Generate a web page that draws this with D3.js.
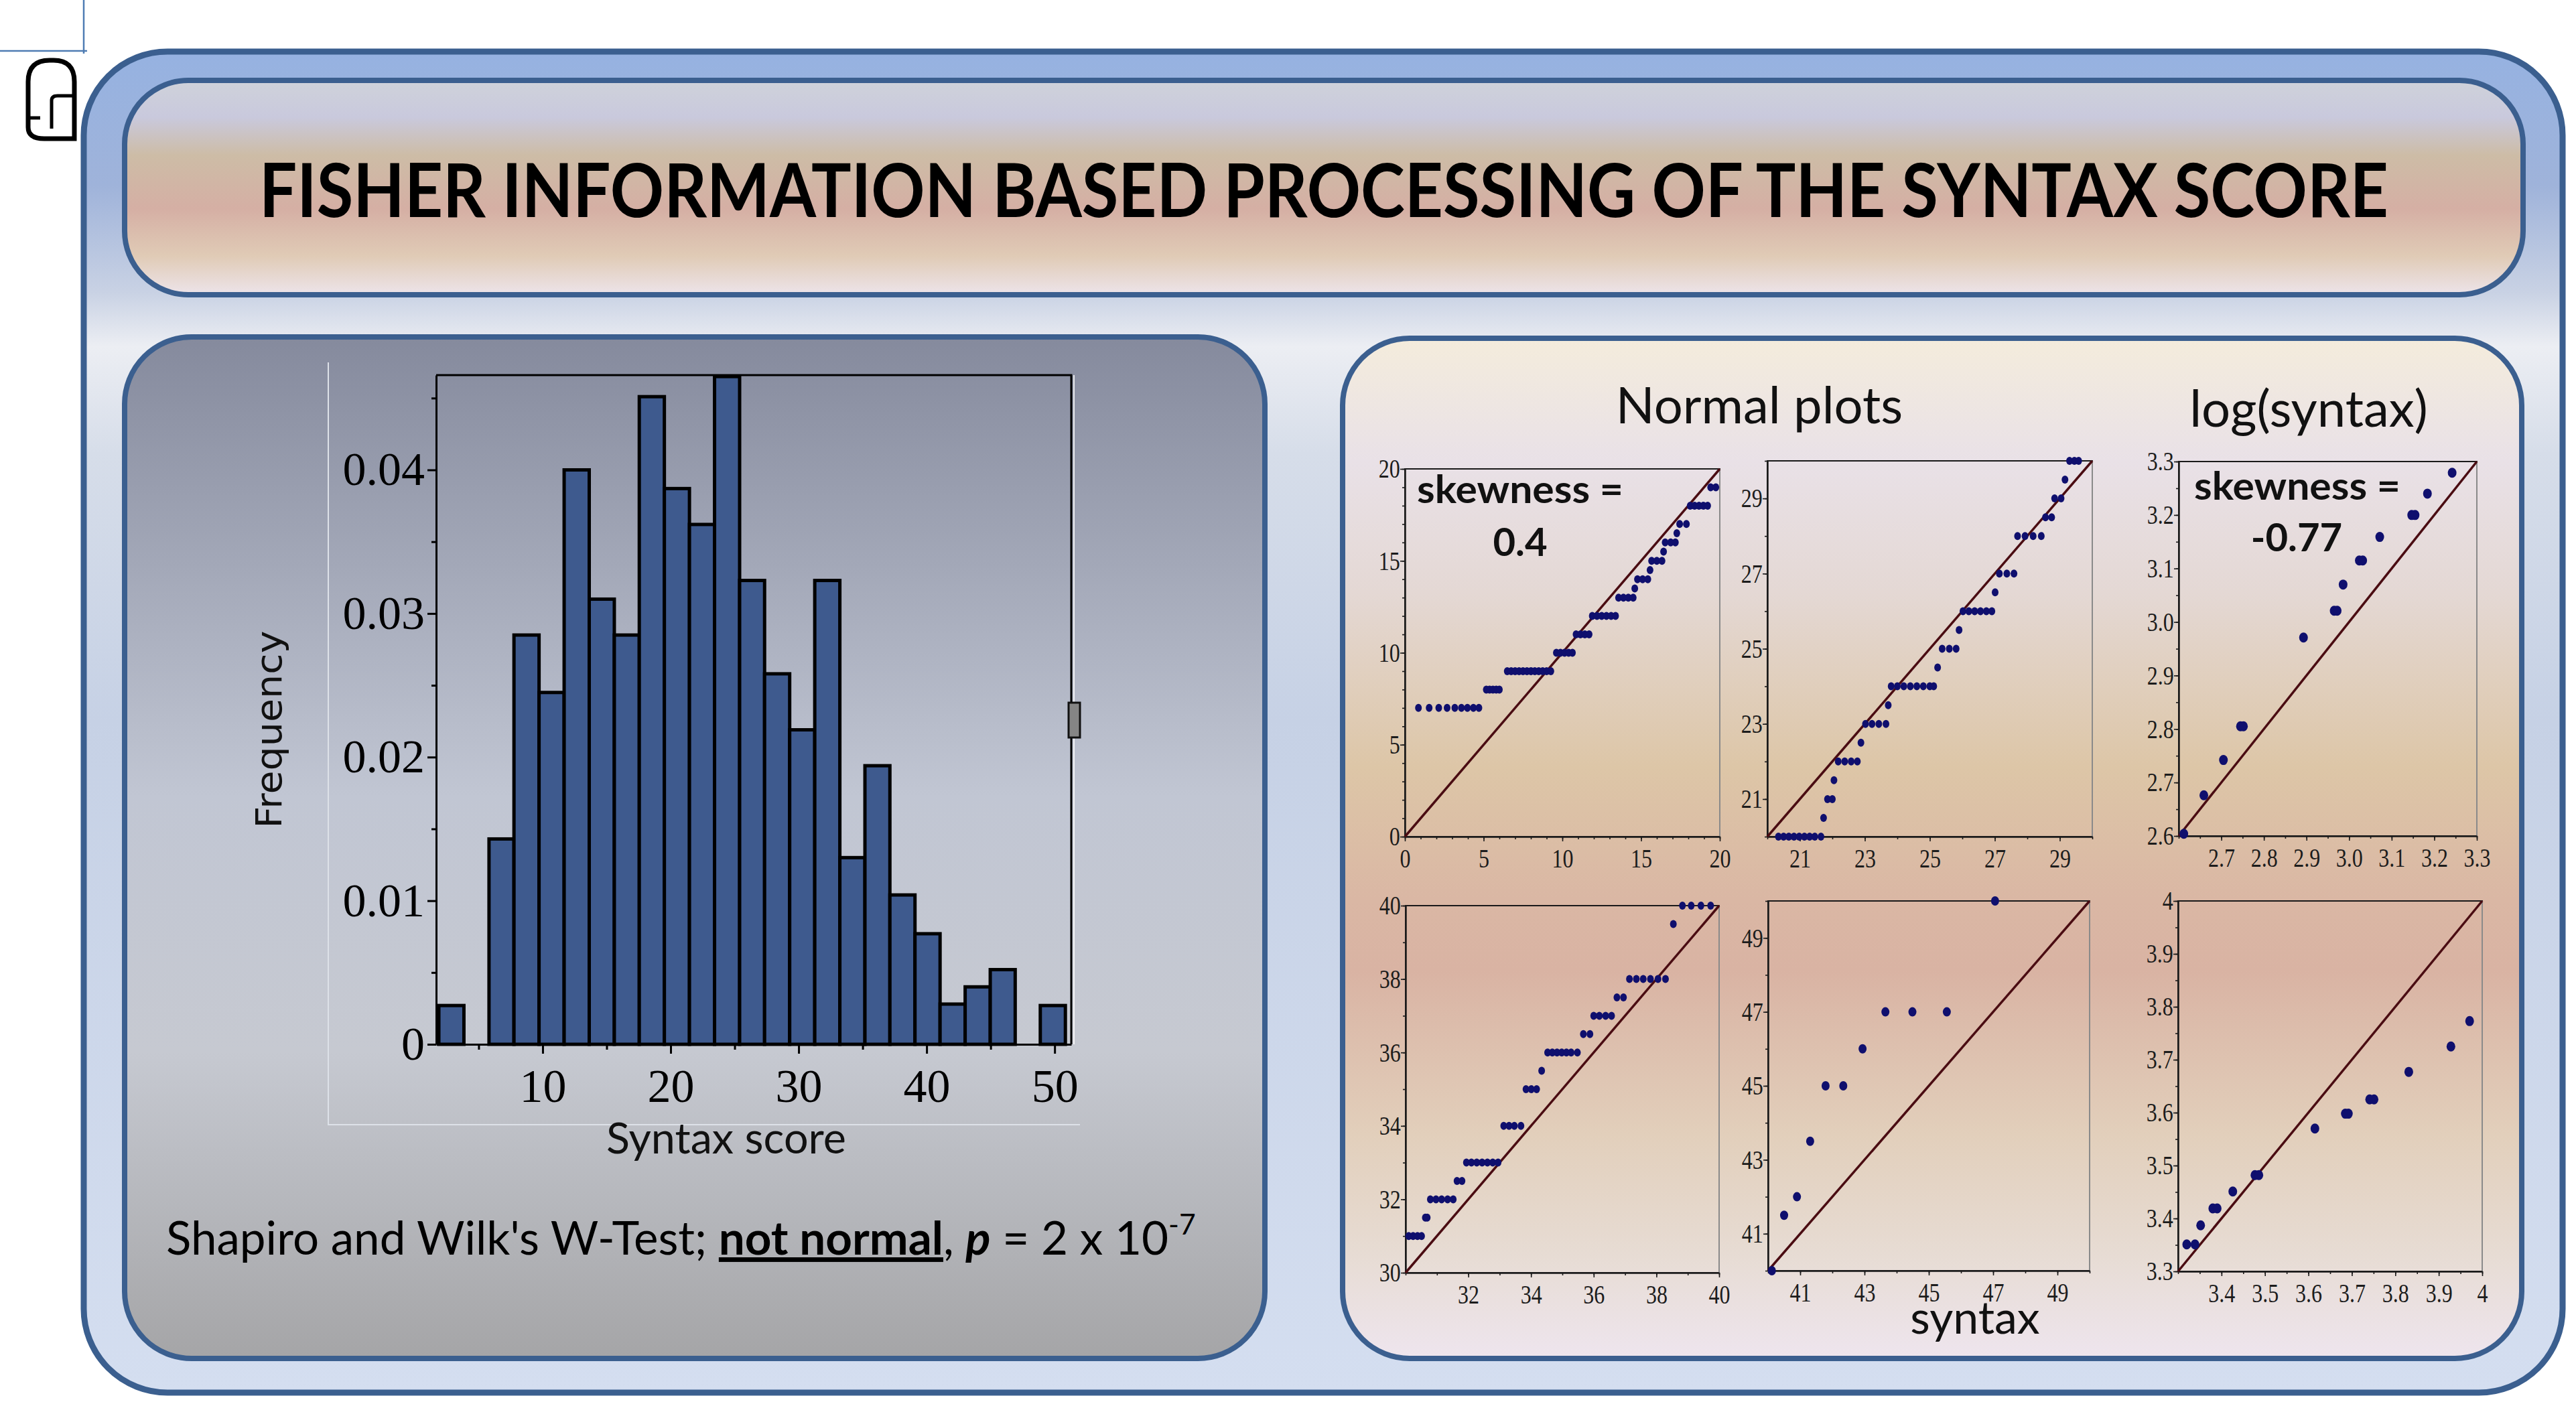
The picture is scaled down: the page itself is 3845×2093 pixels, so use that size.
<!DOCTYPE html>
<html>
<head>
<meta charset="utf-8">
<script src="https://cdn.jsdelivr.net/npm/d3@7/dist/d3.min.js"></script>
<style>
  body { margin: 0; background: #ffffff; }
  svg { display: block; }
</style>
</head>
<body>
<div id="chart-area"></div>
<script>
// ---- data ----
const titleText = "FISHER INFORMATION BASED PROCESSING OF THE SYNTAX SCORE";

// histogram of syntax score (density per bin)
const histEdges = [1.89, 3.85, 5.81, 7.76, 9.72, 11.68, 13.64, 15.60, 17.55, 19.51, 21.47, 23.43, 25.39,
                   27.34, 29.30, 31.26, 33.22, 35.18, 37.13, 39.09, 41.05, 43.01, 44.97, 46.92, 48.88, 50.84];
const histDensity = [0.0027, 0, 0.0143, 0.0285, 0.0245, 0.0400, 0.0310, 0.0285, 0.0451, 0.0387, 0.0362, 0.0465,
                     0.0323, 0.0258, 0.0219, 0.0323, 0.0130, 0.0194, 0.0104, 0.0077, 0.0028, 0.0040, 0.0052, 0, 0.0027];
const histXTicks = [10, 20, 30, 40, 50];
const histXMinor = [5, 15, 25, 35, 45];
const histYTicks = [0, 0.01, 0.02, 0.03, 0.04];
const histYMinor = [0.005, 0.015, 0.025, 0.035, 0.045];

// normal plots, [theoretical, sample]
const qq1Points = [
  [0.86,7],[1.54,7],[2.15,7],[2.68,7],[3.17,7],[3.59,7],[3.97,7],[4.35,7],[4.7,7],
  [5.17,8],[5.38,8],[5.59,8],[5.8,8],[6.0,8],
  [6.5,9],[6.75,9],[7.0,9],[7.25,9],[7.5,9],[7.75,9],[8.0,9],[8.25,9],[8.5,9],[8.75,9],[9.0,9],[9.27,9],
  [9.62,10],[9.88,10],[10.14,10],[10.4,10],[10.64,10],
  [10.87,11],[11.15,11],[11.43,11],[11.7,11],
  [11.9,12],[12.2,12],[12.5,12],[12.8,12],[13.1,12],[13.38,12],
  [13.57,13],[13.88,13],[14.19,13],[14.5,13],
  [14.6,13.5],
  [14.77,14],[15.1,14],[15.43,14],
  [15.57,14.5],
  [15.67,15],[16.0,15],[16.33,15],
  [16.43,15.5],
  [16.53,16],[16.88,16],[17.18,16],
  [17.27,16.5],
  [17.45,17],[17.88,17],
  [18.12,18],[18.4,18],[18.68,18],[18.96,18],[19.23,18],
  [19.42,19],[19.75,19]
];
const qq2Points = [
  [20.34,20],[20.5,20],[20.66,20],[20.82,20],[20.98,20],[21.14,20],[21.3,20],[21.46,20],[21.65,20],
  [21.73,20.5],
  [21.85,21],[22.0,21],
  [22.05,21.5],
  [22.18,22],[22.38,22],[22.58,22],[22.77,22],
  [22.88,22.5],
  [23.02,23],[23.22,23],[23.43,23],[23.65,23],
  [23.72,23.5],
  [23.81,24],[24.0,24],[24.2,24],[24.4,24],[24.6,24],[24.8,24],[25.0,24],[25.12,24],
  [25.24,24.5],
  [25.38,25],[25.6,25],[25.81,25],
  [25.9,25.5],
  [26.02,26],[26.2,26],[26.38,26],[26.56,26],[26.74,26],[26.91,26],
  [27.01,26.5],
  [27.14,27],[27.37,27],[27.59,27],
  [27.7,28],[27.93,28],[28.18,28],[28.43,28],
  [28.56,28.5],[28.75,28.5],
  [28.84,29],[29.04,29],
  [29.16,29.5],
  [29.3,30],[29.45,30],[29.58,30]
];
const qq3Points = [
  [2.612,2.604],[2.659,2.676],[2.705,2.742],[2.745,2.805],[2.752,2.805],[2.893,2.971],
  [2.965,3.021],[2.972,3.021],[2.986,3.07],[3.024,3.115],[3.032,3.115],[3.072,3.159],
  [3.147,3.2],[3.155,3.2],[3.184,3.24],[3.242,3.279]
];
const qq4Points = [
  [30.1,31],[30.24,31],[30.38,31],[30.51,31],
  [30.63,31.5],[30.69,31.5],
  [30.79,32],[30.97,32],[31.15,32],[31.34,32],[31.52,32],
  [31.64,32.5],[31.8,32.5],
  [31.94,33],[32.1,33],[32.27,33],[32.44,33],[32.61,33],[32.78,33],[32.95,33],
  [33.13,34],[33.3,34],[33.47,34],[33.68,34],
  [33.84,35],[34.01,35],[34.18,35],
  [34.34,35.5],
  [34.53,36],[34.68,36],[34.83,36],[34.98,36],[35.13,36],[35.28,36],[35.48,36],
  [35.67,36.5],[35.88,36.5],
  [36.0,37],[36.18,37],[36.38,37],[36.57,37],
  [36.74,37.5],[36.95,37.5],
  [37.14,38],[37.36,38],[37.58,38],[37.81,38],[38.05,38],[38.29,38],
  [38.54,39.5],
  [38.83,40],[39.11,40],[39.42,40],[39.73,40]
];
const qq5Points = [
  [40.12,40],[40.5,41.5],[40.9,42],[41.31,43.5],[41.79,45],[42.34,45],
  [42.94,46],[43.65,47],[44.49,47],[45.56,47],[47.06,50]
];
const qq6Points = [
  [3.32,3.351],[3.339,3.351],[3.352,3.387],[3.38,3.419],[3.39,3.419],[3.426,3.451],
  [3.477,3.482],[3.486,3.482],[3.615,3.570],[3.685,3.598],[3.692,3.598],[3.741,3.625],
  [3.751,3.625],[3.831,3.677],[3.928,3.725],[3.971,3.773]
];

const qq1TicksX = [0, 5, 10, 15, 20], qq1TicksY = [0, 5, 10, 15, 20];
const qq2TicksX = [21, 23, 25, 27, 29], qq2TicksY = [21, 23, 25, 27, 29];
const qq3TicksX = [2.7, 2.8, 2.9, 3.0, 3.1, 3.2, 3.3], qq3TicksY = [2.6, 2.7, 2.8, 2.9, 3.0, 3.1, 3.2, 3.3];
const qq4TicksX = [32, 34, 36, 38, 40], qq4TicksY = [30, 32, 34, 36, 38, 40];
const qq5TicksX = [41, 43, 45, 47, 49], qq5TicksY = [41, 43, 45, 47, 49];
const qq6TicksX = [3.4, 3.5, 3.6, 3.7, 3.8, 3.9, 4], qq6TicksY = [3.3, 3.4, 3.5, 3.6, 3.7, 3.8, 3.9, 4];

// ---- page ----
const W = 3845, H = 2093;
const BORDER = "#3b5f8f";

const svg = d3.select("#chart-area").append("svg")
    .attr("width", W)
    .attr("height", H);

const defs = svg.append("defs");
function vGrad(id, stops) {
    const g = defs.append("linearGradient").attr("id", id)
        .attr("x1", 0).attr("y1", 0).attr("x2", 0).attr("y2", 1);
    stops.forEach(s => g.append("stop").attr("offset", s[0]).attr("stop-color", s[1]));
}
vGrad("gOuter", [[0, "#96b2e1"], [0.1, "#9fb3da"], [0.18, "#c9d2e4"], [0.22, "#eceef3"], [0.3, "#d6dde9"], [0.5, "#c6d1e5"], [1, "#d4def0"]]);
vGrad("gTitle", [[0, "#cfd2da"], [0.17, "#c9c9dd"], [0.35, "#cdbca6"], [0.6, "#d5afa4"], [0.82, "#e0cbb6"], [1, "#ede4ea"]]);
vGrad("gLeft", [[0, "#858a9d"], [0.45, "#c1c6d3"], [0.7, "#c6c9d1"], [1, "#a5a5a7"]]);
vGrad("gRight", [[0, "#f4ecdc"], [0.12, "#e9e1e7"], [0.25, "#e4d8d4"], [0.42, "#ddc6a7"], [0.55, "#dab7a4"],
                 [0.62, "#d9b3a3"], [0.78, "#e2cfbb"], [0.9, "#e7dcd4"], [1, "#eee5ee"]]);

// crop marks
svg.append("line").attr("x1", 0).attr("y1", 76).attr("x2", 130).attr("y2", 76)
    .attr("stroke", "#4f7cb3").attr("stroke-width", 2.5);
svg.append("line").attr("x1", 125).attr("y1", 0).attr("x2", 125).attr("y2", 80)
    .attr("stroke", "#4f7cb3").attr("stroke-width", 2.5);

// logo
svg.append("path")
    .attr("d", "M 42,180 L 42,122 Q 42,90 74,90 L 80,90 Q 111,90 111,122 L 111,207 L 66,207 Q 42,207 42,190 Z")
    .attr("fill", "none").attr("stroke", "#000").attr("stroke-width", 7);
svg.append("path")
    .attr("d", "M 42,176 L 60,176 M 77,192 L 77,150 Q 77,143 86,143 L 111,143")
    .attr("fill", "none").attr("stroke", "#000").attr("stroke-width", 5);

// outer frame
svg.append("rect")
    .attr("x", 125).attr("y", 77).attr("width", 3700).attr("height", 2002)
    .attr("rx", 125).attr("ry", 125)
    .attr("fill", "url(#gOuter)").attr("stroke", BORDER).attr("stroke-width", 9);

// title bar
svg.append("rect")
    .attr("x", 186).attr("y", 120).attr("width", 3580).attr("height", 320)
    .attr("rx", 95).attr("ry", 95)
    .attr("fill", "url(#gTitle)").attr("stroke", BORDER).attr("stroke-width", 8);
svg.append("text")
    .attr("x", 1976).attr("y", 324)
    .attr("text-anchor", "middle")
    .attr("font-family", "Lato, 'Open Sans', sans-serif")
    .attr("font-weight", "bold")
    .attr("font-size", 112)
    .attr("textLength", 3178)
    .attr("lengthAdjust", "spacingAndGlyphs")
    .attr("fill", "#000")
    .text(titleText);

// panels
svg.append("rect")
    .attr("x", 186).attr("y", 503).attr("width", 1702).attr("height", 1525)
    .attr("rx", 100).attr("ry", 100)
    .attr("fill", "url(#gLeft)").attr("stroke", BORDER).attr("stroke-width", 8);
svg.append("rect")
    .attr("x", 2004).attr("y", 505).attr("width", 1760).attr("height", 1523)
    .attr("rx", 100).attr("ry", 100)
    .attr("fill", "url(#gRight)").attr("stroke", BORDER).attr("stroke-width", 8);

// ---- histogram ----
const HB = { LEFT: 651, RIGHT: 1599, TOP: 560, BOTTOM: 1559 };
const hg = svg.append("g");

// faint border of the pasted plot image
hg.append("path")
    .attr("d", `M 490,541 L 490,1679 L 1612,1679`)
    .attr("fill", "none").attr("stroke", "#dde1e8").attr("stroke-width", 2);

const xh = d3.scaleLinear().domain([1.68, 51.3]).range([HB.LEFT, HB.RIGHT]);
const yh = d3.scaleLinear().domain([0, 0.0466]).range([HB.BOTTOM, HB.TOP]);

const bins = histDensity.map((d, i) => ({ x0: histEdges[i], x1: histEdges[i + 1], v: d }));
hg.selectAll("rect.bar").data(bins).enter().append("rect")
    .attr("class", "bar")
    .attr("x", d => xh(d.x0))
    .attr("y", d => yh(d.v))
    .attr("width", d => xh(d.x1) - xh(d.x0))
    .attr("height", d => yh(0) - yh(d.v))
    .attr("fill", "#3e5a8e")
    .attr("stroke", "#000")
    .attr("stroke-width", 5);

// frame top / right
hg.append("path")
    .attr("d", `M ${HB.LEFT},${HB.TOP} L ${HB.RIGHT},${HB.TOP} L ${HB.RIGHT},${HB.BOTTOM}`)
    .attr("fill", "none").attr("stroke", "#000").attr("stroke-width", 3);
hg.append("line")
    .attr("x1", HB.RIGHT + 4).attr("y1", HB.TOP).attr("x2", HB.RIGHT + 4).attr("y2", HB.BOTTOM)
    .attr("stroke", "#ffffff").attr("stroke-opacity", 0.8).attr("stroke-width", 2);

const serif = "'Liberation Serif', 'Times New Roman', serif";

hg.append("g")
    .attr("transform", `translate(0, ${HB.BOTTOM})`)
    .call(d3.axisBottom(xh).tickValues(histXTicks).tickSize(14).tickPadding(22).tickSizeOuter(0));
hg.append("g")
    .attr("transform", `translate(0, ${HB.BOTTOM})`)
    .call(d3.axisBottom(xh).tickValues(histXMinor).tickSize(8).tickFormat("").tickSizeOuter(0))
    .select(".domain").remove();

hg.append("g")
    .attr("transform", `translate(${HB.LEFT}, 0)`)
    .call(d3.axisLeft(yh).tickValues(histYTicks).tickSize(13).tickPadding(4).tickSizeOuter(0)
        .tickFormat(d => d === 0 ? "0" : d3.format(".2f")(d)));
hg.append("g")
    .attr("transform", `translate(${HB.LEFT}, 0)`)
    .call(d3.axisLeft(yh).tickValues(histYMinor).tickSize(7).tickFormat("").tickSizeOuter(0))
    .select(".domain").remove();

hg.selectAll(".domain").attr("stroke", "#000").attr("stroke-width", 3);
hg.selectAll(".tick line").attr("stroke", "#000").attr("stroke-width", 3);
hg.selectAll(".tick text")
    .attr("font-family", serif)
    .attr("font-size", 70)
    .attr("fill", "#000");

// small grey handle on the right edge
hg.append("rect")
    .attr("x", 1595).attr("y", 1049).attr("width", 17).attr("height", 52)
    .attr("fill", "#858585").attr("stroke", "#111").attr("stroke-width", 3);

// labels
svg.append("text")
    .attr("transform", "translate(420, 1089) rotate(-90)")
    .attr("text-anchor", "middle")
    .attr("font-family", "'DejaVu Sans', Verdana, sans-serif")
    .attr("font-size", 54)
    .attr("textLength", 295)
    .attr("lengthAdjust", "spacingAndGlyphs")
    .attr("fill", "#111")
    .text("Frequency");

svg.append("text")
    .attr("x", 1084).attr("y", 1722)
    .attr("text-anchor", "middle")
    .attr("font-family", "Lato, sans-serif")
    .attr("font-size", 64)
    .attr("textLength", 358)
    .attr("lengthAdjust", "spacingAndGlyphs")
    .attr("fill", "#111")
    .text("Syntax score");

const sw = svg.append("text")
    .attr("x", 248).attr("y", 1873)
    .attr("font-family", "Lato, sans-serif")
    .attr("font-size", 68)
    .attr("fill", "#000");
sw.append("tspan").text("Shapiro and Wilk's W-Test; ");
sw.append("tspan").attr("font-weight", "bold").style("text-decoration", "underline").text("not normal");
sw.append("tspan").text(", ");
sw.append("tspan").attr("font-weight", "bold").attr("font-style", "italic").text("p");
sw.append("tspan").text(" = 2 x 10");
sw.append("tspan").attr("font-size", 42).attr("dy", -30).text("-7");
// fit overall width to the reference
const swWidth = sw.node().getBBox().width;
if (swWidth > 0) {
    const k = 1537 / swWidth;
    sw.attr("font-size", 68 * k);
    sw.selectAll("tspan").filter(function () { return this.getAttribute("font-size"); })
        .attr("font-size", 42 * k).attr("dy", -30 * k);
}

// ---- normal plots ----
const fmtInt = d3.format("d");
const fmt1 = d3.format(".1f");
const QQ = [
    { box: [2097, 2567, 700, 1249], dom: [0, 20], pts: qq1Points, xt: qq1TicksX, yt: qq1TicksY, step: 1, fmt: fmtInt, rx: 5, ry: 6 },
    { box: [2638, 3123, 688, 1249], dom: [20, 30], pts: qq2Points, xt: qq2TicksX, yt: qq2TicksY, step: 1, fmt: fmtInt, rx: 5, ry: 6 },
    { box: [3252, 3697, 689, 1248], dom: [2.6, 3.3], pts: qq3Points, xt: qq3TicksX, yt: qq3TicksY, step: 0.05, fmt: fmt1, rx: 6.5, ry: 7.5 },
    { box: [2098, 2566, 1352, 1900], dom: [30, 40], pts: qq4Points, xt: qq4TicksX, yt: qq4TicksY, step: 1, fmt: fmtInt, rx: 5, ry: 6 },
    { box: [2639, 3119, 1345, 1897], dom: [40, 50], pts: qq5Points, xt: qq5TicksX, yt: qq5TicksY, step: 1, fmt: fmtInt, rx: 6, ry: 7 },
    { box: [3251, 3705, 1345, 1898], dom: [3.3, 4], pts: qq6Points, xt: qq6TicksX, yt: qq6TicksY, step: 0.05,
      fmt: d => d === 4 ? "4" : fmt1(d), rx: 6.5, ry: 7.5 }
];

QQ.forEach(p => {
    const [L, R, T, B] = p.box;
    const x = d3.scaleLinear().domain(p.dom).range([L, R]);
    const y = d3.scaleLinear().domain(p.dom).range([B, T]);
    const g = svg.append("g");
    const minor = d3.range(p.dom[0], p.dom[1] + p.step / 2, p.step);

    g.append("rect")
        .attr("x", L).attr("y", T).attr("width", R - L).attr("height", B - T)
        .attr("fill", "none").attr("stroke", "#1a1a1a").attr("stroke-width", 2);
    g.append("line")
        .attr("x1", R).attr("y1", T).attr("x2", R).attr("y2", B)
        .attr("stroke", "#8a8a8a").attr("stroke-width", 2);

    g.append("g").attr("transform", `translate(0, ${B})`)
        .call(d3.axisBottom(x).tickValues(minor).tickSize(4).tickFormat("").tickSizeOuter(0));
    g.append("g").attr("transform", `translate(${L}, 0)`)
        .call(d3.axisLeft(y).tickValues(minor).tickSize(4).tickFormat("").tickSizeOuter(0));
    g.append("g").attr("class", "lab").attr("transform", `translate(0, ${B})`)
        .call(d3.axisBottom(x).tickValues(p.xt).tickSize(7).tickPadding(11).tickSizeOuter(0).tickFormat(p.fmt));
    g.append("g").attr("class", "lab").attr("transform", `translate(${L}, 0)`)
        .call(d3.axisLeft(y).tickValues(p.yt).tickSize(7).tickPadding(2).tickSizeOuter(0).tickFormat(p.fmt));

    g.selectAll(".domain").attr("stroke", "#1a1a1a").attr("stroke-width", 2);
    g.selectAll(".tick line").attr("stroke", "#1a1a1a").attr("stroke-width", 1.6);
    g.selectAll(".tick text")
        .attr("font-family", serif)
        .attr("font-size", 40)
        .attr("fill", "#1c1c1c")
        .attr("transform", "scale(0.8,1)");

    // reference line
    g.append("line")
        .attr("x1", x(p.dom[0])).attr("y1", y(p.dom[0]))
        .attr("x2", x(p.dom[1])).attr("y2", y(p.dom[1]))
        .attr("stroke", "#4a0c12").attr("stroke-width", 3.5);

    g.selectAll("ellipse").data(p.pts).enter().append("ellipse")
        .attr("cx", d => x(d[0]))
        .attr("cy", d => y(d[1]))
        .attr("rx", p.rx)
        .attr("ry", p.ry)
        .attr("fill", "#0f0f6e");
});

// headings inside right panel
const sans = "Lato, 'Open Sans', sans-serif";
svg.append("text")
    .attr("x", 2626).attr("y", 632)
    .attr("text-anchor", "middle")
    .attr("font-family", sans).attr("font-size", 76).attr("fill", "#111")
    .text("Normal plots");
svg.append("text")
    .attr("x", 3446).attr("y", 637)
    .attr("text-anchor", "middle")
    .attr("font-family", sans).attr("font-size", 76).attr("fill", "#111")
    .text("log(syntax)");

function skew(x0, y0, cx, y1, val) {
    svg.append("text")
        .attr("x", x0).attr("y", y0)
        .attr("font-family", sans).attr("font-weight", "bold").attr("font-size", 58)
        .attr("textLength", 308).attr("lengthAdjust", "spacingAndGlyphs")
        .attr("fill", "#111")
        .text("skewness =");
    svg.append("text")
        .attr("x", cx).attr("y", y1)
        .attr("text-anchor", "middle")
        .attr("font-family", sans).attr("font-weight", "bold").attr("font-size", 58)
        .attr("fill", "#111")
        .text(val);
}
skew(2115, 751, 2269, 830, "0.4");
skew(3275, 746, 3428, 823, "-0.77");

svg.append("text")
    .attr("x", 2948).attr("y", 1991)
    .attr("text-anchor", "middle")
    .attr("font-family", sans).attr("font-size", 68).attr("fill", "#111")
    .text("syntax");
</script>
</body>
</html>
